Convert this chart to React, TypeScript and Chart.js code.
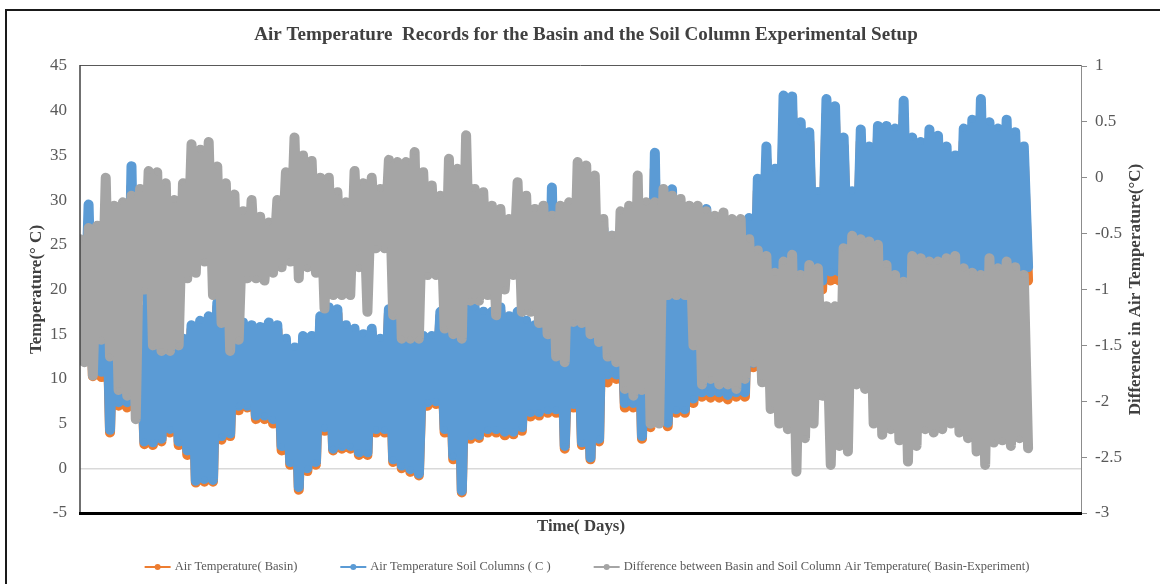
import React, { useEffect, useRef } from "react";
import { Chart, registerables } from "chart.js";

Chart.register(...registerables);

// ---------- texts ----------
const TITLE = "Air Temperature  Records for the Basin and the Soil Column Experimental Setup";
const X_TITLE = "Time( Days)";
const Y_TITLE = "Temperature(° C)";
const Y2_TITLE = "Difference in Air Temperature(°C)";
const SERIES_NAMES = [
  "Air Temperature( Basin)",
  "Air Temperature Soil Columns ( C )",
  "Difference between Basin and Soil Column Air Temperature( Basin-Experiment)",
];
const SERIES_COLORS = ["#ED7D31", "#5B9BD5", "#A5A5A5"];

// ---------- axes ----------
const X_MIN = 0, X_MAX = 350, X_STEP = 50;
const Y_MIN = -5, Y_MAX = 45, Y_STEP = 5;
const Y2_MIN = -3, Y2_MAX = 1, Y2_STEP = 0.5;

// ---------- data (3-day windows: daily high / daily low) ----------
const DAY_STEP = 3;
const LOW_SHIFT = 1.5; // the low of each window is placed half a window later

const BASIN_HI = [
  21.5, 27.5, 23.5, 23.5, 21.5, 25.5, 31.5, 17.3, 21.5, 23.5, 21.5, 19.5, 14, 15.5, 16, 16.5, 18, 18, 17.5, 15.8, 15.5, 15.3, 15.8, 15.5, 14, 13, 14.3, 14.3,
  16.5, 17.5, 17.3, 15.5, 15.1, 14.5, 15.1, 14, 17.3, 16.5, 17.5, 17, 14.3, 14.3, 17, 17, 17, 17.5, 17.5, 17, 17, 17.5, 16.5, 17, 16, 15.5, 16.5,
  29, 19.5, 17.5, 18.5, 17.5, 19.5, 25.5, 25, 21, 21, 22, 23, 33.5, 28, 29.5, 27.5, 27.5, 28, 28, 25, 25, 26, 25, 27, 31, 34.5, 32.5, 39,
  40, 37.5, 36.5, 30, 39.5, 39, 36, 30, 36.5, 35, 37, 37, 36.5, 39.5, 36, 35.5, 36.5, 36, 35, 34, 36.5, 37.5, 39.5, 37.5, 37, 37.5, 36.5, 34.6,
];
const BASIN_LO = [
  12.5, 10.3, 10.2, 4, 7, 6.8, 7.5, 2.7, 2.6, 3, 4, 2.6, 1.5, -1.6, -1.5, -1.5, 3.2, 3.6, 6.5, 6.8, 5.5, 5.5, 5, 2, 0.4, -2.4, -0.3, 0.4,
  4.2, 2, 2.2, 2.2, 1.5, 1.5, 4, 4, 0.7, 0, -0.4, -0.8, 7, 7.2, 4, 1, -2.7, 3.3, 3.4, 4, 4, 3.7, 3.8, 4.2, 5.8, 5.9, 6.2,
  6.2, 2.2, 6.8, 2.6, 1, 3, 9.6, 10, 6.8, 6.8, 3.3, 4.6, 5.6, 4.7, 6.2, 6.2, 7.3, 8, 7.9, 7.9, 7.7, 8, 8, 11.3, 18, 18.5, 19, 19,
  19, 19.5, 20, 20, 21, 21, 20, 19.5, 20, 20, 20, 19.5, 19.5, 19, 20, 20, 20, 20, 20, 20, 20, 20, 20, 20.5, 20.5, 20, 20.5, 21,
];
const SOIL_HI = [
  22, 29.5, 24, 24, 22, 26, 33.8, 17.8, 22, 24, 22, 20, 14.5, 16, 16.5, 17, 18.5, 18.5, 18, 16.3, 16, 15.8, 16.3, 16, 14.5, 13.5, 14.8, 14.8,
  17, 18, 17.8, 16, 15.6, 15, 15.6, 14.5, 17.8, 17, 18, 17.5, 14.8, 14.8, 17.5, 17.5, 17.5, 18, 18, 17.5, 17.5, 18, 17, 17.5, 16.5, 16, 17,
  31.4, 20, 18, 19, 18, 20, 26.8, 26, 22, 22, 23, 24, 35.3, 29, 31.2, 28.5, 28.5, 29, 29, 26, 26, 27, 26, 28, 32.4, 36, 33.5, 41.7,
  41.6, 38.7, 37.6, 30.9, 41.3, 40.5, 37, 31, 37.9, 36, 38.3, 38.3, 38, 41.1, 37, 36.5, 37.9, 37.2, 36, 35, 38, 39, 41.3, 38.7, 38, 39, 37.6, 36,
];
const SOIL_LO = [
  13.5, 11, 10.8, 4.3, 7.4, 7.4, 8, 3, 2.9, 3.3, 4.4, 3, 2, -1.4, -1.2, -1.3, 3.6, 3.9, 7, 7, 5.9, 5.9, 5.5, 2.5, 0.7, -2.1, 0, 0.7,
  4.6, 2.2, 2.5, 2.5, 1.8, 1.8, 4.4, 4.4, 1, 0.3, -0.1, -0.6, 7.4, 7.5, 4.4, 1.4, -2.5, 3.7, 3.7, 4.4, 4.4, 4.1, 4.1, 4.6, 6.3, 6.3, 6.6,
  6.6, 2.5, 7.2, 2.9, 1.2, 3.3, 10.5, 10.5, 7.3, 7.3, 3.6, 5, 6, 5.1, 6.6, 6.6, 7.8, 8.5, 8.5, 8.5, 8.2, 8.5, 8.5, 11.8, 19, 19.5, 20, 20,
  20, 20.5, 21, 21, 22, 22, 21, 20.5, 21, 21, 21, 20.5, 20.5, 20, 21, 21, 21, 21, 21, 21, 21, 21, 21, 21.5, 21.5, 21, 21.5, 22.5,
];
const DIFF_HI = [
  -0.55, -0.45, -0.43, 0, -0.25, -0.22, -0.16, -0.1, 0.06, 0.05, -0.05, -0.2, -0.05, 0.3, 0.25, 0.32, 0.1, -0.05, -0.15, -0.3, -0.2, -0.35, -0.4, -0.2, 0.05, 0.36, 0.2, 0.15,
  0, 0, -0.13, -0.22, 0.06, -0.05, 0, -0.1, 0.16, 0.14, 0.14, 0.23, 0.05, -0.07, -0.16, 0.17, 0.08, 0.38, -0.1, -0.13, -0.25, -0.28, -0.37, -0.04, -0.16, -0.28, -0.25,
  -0.34, -0.25, -0.22, 0.14, 0.11, 0.02, -0.37, -0.52, -0.3, -0.25, 0.02, -0.22, -0.22, -0.1, -0.16, -0.19, -0.25, -0.25, -0.3, -0.34, -0.31, -0.37, -0.37, -0.55, -0.65, -0.7, -0.85, -0.75,
  -0.69, -0.87, -0.78, -0.81, -1.15, -1.15, -0.63, -0.52, -0.55, -0.57, -0.6, -0.78, -0.87, -0.93, -0.7, -0.72, -0.75, -0.75, -0.72, -0.7, -0.81, -0.85, -0.87, -0.72, -0.81, -0.75, -0.8, -0.87,
];
const DIFF_LO = [
  -1.65, -1.77, -1.45, -1.6, -1.9, -1.95, -2.16, -1, -1.5, -1.55, -1.55, -1.5, -0.9, -0.85, -0.75, -1.05, -1.3, -1.55, -1.45, -0.9, -0.9, -0.92, -0.85, -0.8, -0.75, -0.9, -0.8, -0.85,
  -1.17, -1.05, -1.05, -1.05, -0.8, -1.2, -0.63, -0.63, -1.23, -1.44, -1.44, -1.44, -0.87, -0.87, -1.35, -1.4, -1.44, -1.1, -1.1, -1.05, -1.23, -1, -0.87, -1.2, -1.2, -1.3, -1.4,
  -1.6, -1.65, -1.29, -1.3, -1.4, -1.47, -1.6, -1.65, -1.89, -1.95, -1.9, -2.2, -2.2, -1.05, -1.05, -1.05, -1.5, -1.85, -1.8, -1.85, -1.85, -1.89, -1.8, -1.65, -1.83, -2.07, -2.2, -2.25,
  -2.63, -2.33, -2.2, -1.95, -2.57, -2.4, -2.45, -1.85, -1.89, -2.2, -2.3, -2.25, -2.35, -2.54, -2.4, -2.25, -2.28, -2.25, -2.2, -2.28, -2.33, -2.45, -2.57, -2.37, -2.35, -2.4, -2.33, -2.42,
];

const DAYS = SOIL_HI.map((_, i) => i * DAY_STEP);

function series(hi: number[], lo: number[]) {
  const pts: { x: number; y: number }[] = [];
  DAYS.forEach((d, i) => {
    pts.push({ x: d, y: hi[i] });
    pts.push({ x: d + LOW_SHIFT, y: lo[i] });
  });
  return pts;
}

const SERIF = '"Liberation Serif", "Times New Roman", serif';
const TEXT_DARK = "#404040";
const TEXT_MID = "#595959";

function stretchedText(ctx: any, text: string, x: number, y: number, sx: number, rot = 0) {
  ctx.save();
  ctx.translate(x, y);
  if (rot) ctx.rotate(rot);
  ctx.scale(sx, 1);
  ctx.fillText(text, 0, 0);
  ctx.restore();
}

const decor = {
  id: "decor",
  afterDraw(chart: any) {
    const { ctx, chartArea: a } = chart;
    ctx.save();
    // plot area frame
    ctx.lineCap = "butt";
    ctx.strokeStyle = "#595959";
    ctx.lineWidth = 1;
    ctx.beginPath();
    ctx.moveTo(a.left, a.top - 0.5);
    ctx.lineTo(a.right, a.top - 0.5);
    ctx.stroke();
    ctx.strokeStyle = "#8c8c8c";
    ctx.beginPath();
    ctx.moveTo(a.right + 0.5, a.top - 1);
    ctx.lineTo(a.right + 0.5, a.bottom);
    ctx.stroke();
    ctx.strokeStyle = "#404040";
    ctx.lineWidth = 1.5;
    ctx.beginPath();
    ctx.moveTo(a.left, a.top - 1);
    ctx.lineTo(a.left, a.bottom);
    ctx.stroke();
    ctx.strokeStyle = "#000000";
    ctx.lineWidth = 3;
    ctx.beginPath();
    ctx.moveTo(a.left - 1, a.bottom + 0.5);
    ctx.lineTo(a.right + 1, a.bottom + 0.5);
    ctx.stroke();

    // titles
    const midY = (a.top + a.bottom) / 2;
    ctx.fillStyle = TEXT_DARK;
    ctx.textBaseline = "middle";
    ctx.textAlign = "center";
    ctx.font = `bold 18px ${SERIF}`;
    stretchedText(ctx, TITLE, 586, 35, 1.06);
    ctx.font = `bold 16.5px ${SERIF}`;
    stretchedText(ctx, X_TITLE, 581, 527, 1.02);
    ctx.font = `bold 17px ${SERIF}`;
    stretchedText(ctx, Y_TITLE, 37, midY, 1, -Math.PI / 2);
    stretchedText(ctx, Y2_TITLE, 1136, midY, 1, -Math.PI / 2);

    // legend
    ctx.font = `12.5px ${SERIF}`;
    const mark = 26, gapText = 4, gapItem = 43;
    const widths = SERIES_NAMES.map((n) => mark + gapText + ctx.measureText(n).width);
    const total = widths.reduce((s, w) => s + w, 0) + gapItem * (SERIES_NAMES.length - 1);
    let x = 587 - total / 2;
    const ly = 567;
    SERIES_NAMES.forEach((name, i) => {
      const c = SERIES_COLORS[i];
      ctx.strokeStyle = c;
      ctx.lineWidth = 2;
      ctx.beginPath();
      ctx.moveTo(x, ly);
      ctx.lineTo(x + mark, ly);
      ctx.stroke();
      ctx.fillStyle = c;
      ctx.beginPath();
      ctx.arc(x + mark / 2, ly, 3, 0, Math.PI * 2);
      ctx.fill();
      ctx.fillStyle = TEXT_MID;
      ctx.textAlign = "left";
      ctx.fillText(name, x + mark + gapText, ly);
      x += widths[i] + gapItem;
    });
    ctx.restore();
  },
};

export default function App() {
  const ref = useRef<HTMLCanvasElement | null>(null);

  useEffect(() => {
    if (!ref.current) return;
    const mk = (label: string, color: string, data: any, axis: string, order: number) => ({
      label,
      data,
      yAxisID: axis,
      order,
      borderColor: color,
      backgroundColor: color,
      pointBackgroundColor: color,
      pointBorderColor: color,
      borderWidth: 10,
      borderJoinStyle: "round",
      borderCapStyle: "round",
      pointRadius: 3,
      pointBorderWidth: 1,
      tension: 0,
    });
    const chart = new Chart(ref.current, {
      type: "line",
      data: {
        datasets: [
          mk(SERIES_NAMES[0], SERIES_COLORS[0], series(BASIN_HI, BASIN_LO), "y", 3),
          mk(SERIES_NAMES[1], SERIES_COLORS[1], series(SOIL_HI, SOIL_LO), "y", 2),
          mk(SERIES_NAMES[2], SERIES_COLORS[2], series(DIFF_HI, DIFF_LO), "y2", 1),
        ],
      },
      options: {
        animation: false,
        responsive: false,
        devicePixelRatio: 1,
        parsing: false as any,
        normalized: true,
        events: [],
        layout: { padding: { top: 66, bottom: 71, left: 0, right: 0 } },
        plugins: { legend: { display: false }, title: { display: false }, tooltip: { enabled: false } },
        scales: {
          x: {
            type: "linear",
            position: "bottom",
            z: 1,
            min: X_MIN,
            max: X_MAX,
            ticks: { stepSize: X_STEP, padding: -33, color: TEXT_MID, font: { family: SERIF, size: 17 }, maxRotation: 0, autoSkip: false },
            grid: { display: false, drawTicks: false },
            border: { display: false },
            afterFit: (s: any) => { s.height = 0; },
          },
          y: {
            position: "left",
            min: Y_MIN,
            max: Y_MAX,
            ticks: { stepSize: Y_STEP, padding: 13, color: TEXT_MID, font: { family: SERIF, size: 17 } },
            grid: {
              drawTicks: false,
              lineWidth: 1.5,
              color: (c: any) => (c.tick && c.tick.value === 0 ? "#d9d9d9" : "rgba(0,0,0,0)"),
            },
            border: { display: false },
            afterFit: (s: any) => { s.width = 80; },
          },
          y2: {
            position: "right",
            min: Y2_MIN,
            max: Y2_MAX,
            ticks: {
              stepSize: Y2_STEP,
              padding: 8,
              color: TEXT_MID,
              font: { family: SERIF, size: 17 },
              callback: (v: any) => String(v),
            },
            grid: { drawOnChartArea: false, drawTicks: true, tickLength: 6, color: "#8c8c8c" },
            border: { display: false },
            afterFit: (s: any) => { s.width = 79; },
          },
        },
      } as any,
      plugins: [decor],
    });
    return () => chart.destroy();
  }, []);

  return (
    <div style={{ position: "absolute", left: 0, top: 0, width: 1160, height: 584, background: "#ffffff", overflow: "hidden" }}>
      <canvas ref={ref} width={1160} height={584} style={{ display: "block", width: 1160, height: 584 }} />
      <div
        style={{
          position: "absolute",
          left: 5,
          top: 9,
          width: 1200,
          height: 640,
          border: "2px solid #1a1a1a",
          pointerEvents: "none",
        }}
      />
    </div>
  );
}
